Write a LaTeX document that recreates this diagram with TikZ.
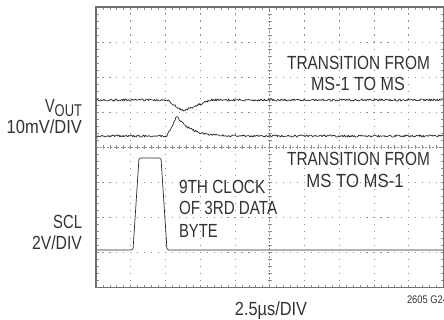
\documentclass[tikz,border=0pt]{standalone}
\usepackage{fontspec}
\setmainfont{Liberation Sans}
\usepackage{graphicx}
\definecolor{txt}{HTML}{333333}
\definecolor{gridc}{HTML}{8E8E8E}
\definecolor{bordc}{HTML}{707070}
\definecolor{trc}{HTML}{2A2A2A}
\newcommand\sqz[2]{\scalebox{#1}[1]{#2}}
\begin{document}
\begin{tikzpicture}[x=1pt,y=-1pt,
  lbl/.style={inner sep=0pt,outer sep=0pt,text=txt,font=\fontsize{19}{21}\selectfont},
  gridline/.style={gridc,line width=0.75pt},
  border/.style={bordc,line width=1.3pt},
  trace/.style={trc,line width=0.7pt,line join=round},
  declare function={
    dipA(\x)=(\x<167) ? 0 : ((\x<183) ? 11*(\x-167)/16 : ((\x<210) ? 11*(210-\x)/27 : 0));
    bumpB(\x)=(\x<167) ? 0 : ((\x<177) ? -20*(\x-167)/10 : -20*exp(-(\x-177)/13));
  }]
\useasboundingbox (0,0) rectangle (444,320);
\fill[white] (0,0) rectangle (444,320);
\def\XA{96}\def\XB{443.5}\def\YA{7}\def\YB{287.5}
\pgfmathsetmacro\DX{(\XB-\XA)/10}
\pgfmathsetmacro\DY{(\YB-\YA)/8}
% dotted grid
\foreach \i in {1,2,3,4,6,7,8,9}{
  \draw[gridline,dash pattern=on 1.2pt off 5.82pt,dash phase=0.6pt] ({\XA+\i*\DX},\YA) -- ({\XA+\i*\DX},\YB);
}
\foreach \j in {1,2,3,5,6,7}{
  \draw[gridline,dash pattern=on 1.2pt off 5.75pt,dash phase=0.6pt] (\XA,{\YA+\j*\DY}) -- (\XB,{\YA+\j*\DY});
}
% centre lines
\draw[gridline,dash pattern=on 2pt off 1.5pt] ({\XA+5*\DX},\YA) -- ({\XA+5*\DX},\YB);
\draw[gridline,dash pattern=on 2pt off 1.5pt] (\XA,{\YA+4*\DY}) -- (\XB,{\YA+4*\DY});
\foreach \k in {1,...,49}{
  \draw[gridline] ({\XA+\k*\DX/5},{\YA+4*\DY-2.2}) -- ++(0,4.4);
  \draw[gridline] ({\XA+\k*\DX/5},\YA) -- ++(0,3);
  \draw[gridline] ({\XA+\k*\DX/5},\YB) -- ++(0,-3);
}
\foreach \k in {1,...,39}{
  \draw[gridline] ({\XA+5*\DX-2.2},{\YA+\k*\DY/5}) -- ++(4.4,0);
  \draw[gridline] (\XA,{\YA+\k*\DY/5}) -- ++(3,0);
  \draw[gridline] (\XB,{\YA+\k*\DY/5}) -- ++(-3,0);
}
% border
\draw[border] (\XB,\YA) -- (\XA,\YA) -- (\XA,\YB) -- (\XB,\YB) -- cycle;
% traces
\pgfmathsetseed{7}
\draw[trace] plot[domain=96.5:443,samples=420] (\x,{100+dipA(\x)+1.1*rand});
\draw[trace] plot[domain=96.5:443,samples=420] (\x,{136+bumpB(\x)+1.1*rand});
\draw[trace,rounded corners=1.5pt] (96.5,250) -- (133,250) -- (139,158) -- (161,158) -- (167,250) -- (443,250);
% labels
\node[lbl,anchor=base east] (vout) at (82,113) {\sqz{0.76}{V\raisebox{-3.5pt}{\fontsize{17}{17}\selectfont OUT}}};
\node[lbl,anchor=base east] (vdiv) at (82,134) {\sqz{0.87}{10mV/DIV}};
\node[lbl,anchor=base east] (scl) at (82,229) {\sqz{0.78}{SCL}};
\node[lbl,anchor=base east] (sdiv) at (82,250) {\sqz{0.83}{2V/DIV}};
\node[lbl,anchor=base] (ta1) at (358.5,70) {\sqz{0.81}{TRANSITION FROM}};
\node[lbl,anchor=base] (ta2) at (358,91) {\sqz{0.85}{MS-1 TO MS}};
\node[lbl,anchor=base] (tb1) at (358.5,166) {\sqz{0.81}{TRANSITION FROM}};
\node[lbl,anchor=base] (tb2) at (355,188) {\sqz{0.88}{MS TO MS-1}};
\node[lbl,anchor=base west] (c1) at (179,194) {\sqz{0.81}{9TH CLOCK}};
\node[lbl,anchor=base west] (c2) at (179,215) {\sqz{0.80}{OF 3RD DATA}};
\node[lbl,anchor=base west] (c3) at (179,237) {\sqz{0.78}{BYTE}};
\node[lbl,anchor=base] (tdiv) at (271,315) {\sqz{0.86}{2.5µs/DIV}};
\node[lbl,anchor=base west,font=\fontsize{11}{13}\selectfont] (fig) at (407,303) {\sqz{0.85}{2605 G24}};
\end{tikzpicture}
\end{document}
